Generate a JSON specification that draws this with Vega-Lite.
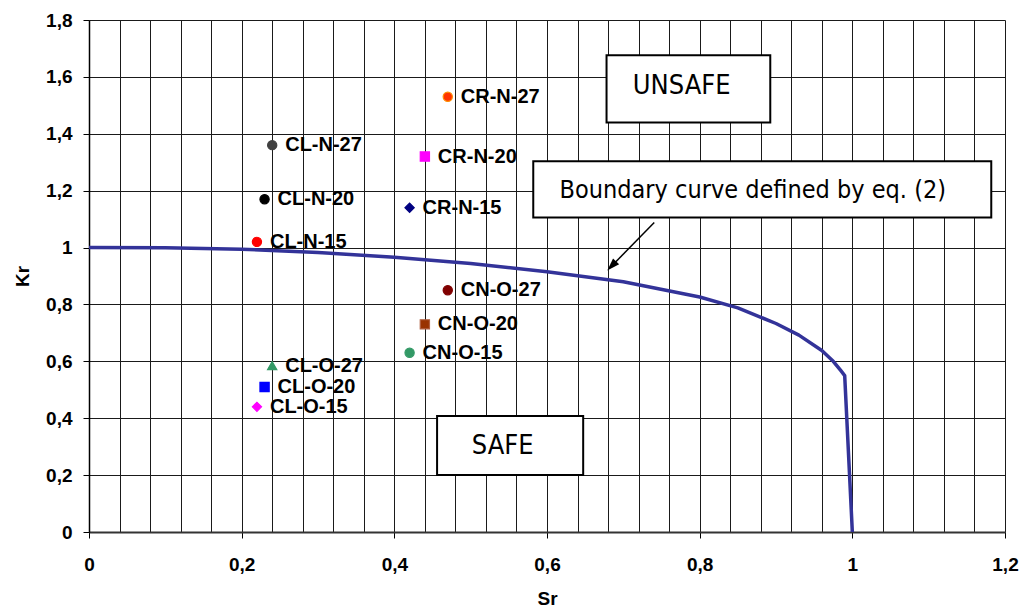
{
  "$schema": "https://vega.github.io/schema/vega-lite/v6.json",
  "width": 916,
  "height": 512,
  "autosize": {"type": "none"},
  "padding": {"left": 89, "top": 20, "right": 17, "bottom": 78},
  "background": "white",
  "datasets": {
    "points": [
      {"Sr": 0.47, "Kr": 1.53, "label": "CR-N-27"},
      {"Sr": 0.24, "Kr": 1.36, "label": "CL-N-27"},
      {"Sr": 0.44, "Kr": 1.32, "label": "CR-N-20"},
      {"Sr": 0.23, "Kr": 1.17, "label": "CL-N-20"},
      {"Sr": 0.42, "Kr": 1.14, "label": "CR-N-15"},
      {"Sr": 0.22, "Kr": 1.02, "label": "CL-N-15"},
      {"Sr": 0.47, "Kr": 0.85, "label": "CN-O-27"},
      {"Sr": 0.44, "Kr": 0.73, "label": "CN-O-20"},
      {"Sr": 0.42, "Kr": 0.63, "label": "CN-O-15"},
      {"Sr": 0.24, "Kr": 0.585, "label": "CL-O-27"},
      {"Sr": 0.23, "Kr": 0.51, "label": "CL-O-20"},
      {"Sr": 0.22, "Kr": 0.44, "label": "CL-O-15"}
    ],
    "curve": [
      {"Sr": 0.0, "Kr": 1.0},
      {"Sr": 0.1, "Kr": 0.999},
      {"Sr": 0.2, "Kr": 0.994},
      {"Sr": 0.3, "Kr": 0.983},
      {"Sr": 0.4, "Kr": 0.966},
      {"Sr": 0.5, "Kr": 0.944},
      {"Sr": 0.6, "Kr": 0.915},
      {"Sr": 0.7, "Kr": 0.88},
      {"Sr": 0.8, "Kr": 0.826},
      {"Sr": 0.85, "Kr": 0.788},
      {"Sr": 0.9, "Kr": 0.733},
      {"Sr": 0.93, "Kr": 0.692},
      {"Sr": 0.96, "Kr": 0.638},
      {"Sr": 0.975, "Kr": 0.6},
      {"Sr": 0.985, "Kr": 0.567},
      {"Sr": 0.99, "Kr": 0.55},
      {"Sr": 1.0, "Kr": 0.0}
    ],
    "boxes": [
      {"Sr": 0.678, "Sr2": 0.8925, "Kr": 1.44, "Kr2": 1.676},
      {"Sr": 0.456, "Sr2": 0.6474, "Kr": 0.2, "Kr2": 0.408},
      {"Sr": 0.582, "Sr2": 1.182, "Kr": 1.106, "Kr2": 1.303}
    ],
    "boxtext": [
      {"Sr": 0.7765, "Kr": 1.567, "text": "UNSAFE", "kind": "big"},
      {"Sr": 0.542, "Kr": 0.301, "text": "SAFE", "kind": "big"},
      {"Sr": 0.8696, "Kr": 1.204, "text": "Boundary curve defined by eq. (2)", "kind": "small"}
    ],
    "arrow": [
      {"Sr": 0.7405, "Kr": 1.088, "Sr2": 0.6854, "Kr2": 0.937}
    ],
    "arrowhead": [
      {"Sr": 0.6854, "Kr": 0.937}
    ]
  },
  "encoding": {
    "x": {
      "field": "Sr", "type": "quantitative", "title": "Sr",
      "scale": {"domain": [0, 1.2], "nice": false, "zero": true},
      "axis": {
        "values": [0, 0.04, 0.08, 0.12, 0.16, 0.2, 0.24, 0.28, 0.32, 0.36, 0.4, 0.44, 0.48, 0.52, 0.56, 0.6, 0.64, 0.68, 0.72, 0.76, 0.8, 0.84, 0.88, 0.92, 0.96, 1, 1.04, 1.08, 1.12, 1.16, 1.2],
        "grid": true,
        "labelOverlap": false,
        "labelBound": false,
        "labelFlush": false,
        "labelExpr": "abs(datum.value*5 - round(datum.value*5)) < 0.001 ? replace(format(datum.value, '.1~f'), '.', ',') : ''",
        "tickOpacity": {"expr": "abs(datum.value*5 - round(datum.value*5)) < 0.001 ? 1 : 0"},
        "labelPadding": 17,
        "titlePadding": 15,
        "domainWidth": 2,
        "domainColor": "#333"
      }
    },
    "y": {
      "field": "Kr", "type": "quantitative", "title": "Kr",
      "scale": {"domain": [0, 1.8], "nice": false, "zero": true},
      "axis": {
        "values": [0, 0.2, 0.4, 0.6, 0.8, 1, 1.2, 1.4, 1.6, 1.8],
        "grid": true,
        "labelOverlap": false,
        "labelBound": false,
        "labelFlush": false,
        "labelExpr": "replace(format(datum.value, '.1~f'), '.', ',')",
        "labelPadding": 11,
        "titlePadding": 13,
        "domainWidth": 1.5
      }
    }
  },
  "layer": [
    {
      "data": {"name": "curve"},
      "mark": {"type": "line", "color": "#333399", "strokeWidth": 3.5, "strokeJoin": "round"},
      "encoding": {
        "order": {"field": "Sr", "type": "quantitative"}
      }
    },
    {
      "data": {"name": "points"},
      "mark": {"type": "point", "filled": true, "opacity": 1, "strokeWidth": 1.2},
      "encoding": {
        "color": {
          "field": "label", "type": "nominal", "legend": null,
          "scale": {
            "domain": ["CR-N-27", "CL-N-27", "CR-N-20", "CL-N-20", "CR-N-15", "CL-N-15", "CN-O-27", "CN-O-20", "CN-O-15", "CL-O-27", "CL-O-20", "CL-O-15"],
            "range": ["#ff3300", "#404040", "#ff00ff", "#000000", "#000080", "#ff0000", "#800000", "#993300", "#339966", "#339966", "#0000ff", "#ff00ff"]
          }
        },
        "stroke": {
          "field": "label", "type": "nominal", "legend": null,
          "scale": {
            "domain": ["CR-N-27", "CL-N-27", "CR-N-20", "CL-N-20", "CR-N-15", "CL-N-15", "CN-O-27", "CN-O-20", "CN-O-15", "CL-O-27", "CL-O-20", "CL-O-15"],
            "range": ["#ff8c00", "#404040", "#ff00ff", "#000000", "#000080", "#ff0000", "#800000", "#b06040", "#339966", "#339966", "#0000ff", "#ff00ff"]
          }
        },
        "shape": {
          "field": "label", "type": "nominal", "legend": null,
          "scale": {
            "domain": ["CR-N-27", "CL-N-27", "CR-N-20", "CL-N-20", "CR-N-15", "CL-N-15", "CN-O-27", "CN-O-20", "CN-O-15", "CL-O-27", "CL-O-20", "CL-O-15"],
            "range": ["circle", "circle", "square", "circle", "diamond", "circle", "circle", "square", "circle", "triangle-up", "square", "diamond"]
          }
        },
        "size": {
          "field": "label", "type": "nominal", "legend": null,
          "scale": {
            "domain": ["CR-N-27", "CL-N-27", "CR-N-20", "CL-N-20", "CR-N-15", "CL-N-15", "CN-O-27", "CN-O-20", "CN-O-15", "CL-O-27", "CL-O-20", "CL-O-15"],
            "range": [85, 85, 70, 85, 110, 85, 85, 70, 85, 95, 70, 110]
          }
        }
      }
    },
    {
      "data": {"name": "points"},
      "mark": {"type": "text", "align": "left", "baseline": "middle", "dx": 13, "font": "Liberation Sans", "fontWeight": "bold", "fontSize": 20, "color": "#000"},
      "encoding": {
        "text": {"field": "label"}
      }
    },
    {
      "data": {"name": "boxes"},
      "mark": {"type": "rect", "fill": "white", "stroke": "#000", "strokeWidth": 2},
      "encoding": {
        "x2": {"field": "Sr2"},
        "y2": {"field": "Kr2"}
      }
    },
    {
      "data": {"name": "boxtext"},
      "transform": [{"filter": "datum.kind == 'big'"}],
      "mark": {"type": "text", "align": "center", "baseline": "middle", "font": "DejaVu Sans Condensed", "fontSize": 27, "color": "#000"},
      "encoding": {
        "text": {"field": "text"}
      }
    },
    {
      "data": {"name": "boxtext"},
      "transform": [{"filter": "datum.kind == 'small'"}],
      "mark": {"type": "text", "align": "center", "baseline": "middle", "font": "DejaVu Sans Condensed", "fontSize": 25, "color": "#000"},
      "encoding": {
        "text": {"field": "text"}
      }
    },
    {
      "data": {"name": "arrow"},
      "mark": {"type": "rule", "color": "#000", "strokeWidth": 1.5},
      "encoding": {
        "x2": {"field": "Sr2"},
        "y2": {"field": "Kr2"}
      }
    },
    {
      "data": {"name": "arrowhead"},
      "mark": {"type": "point", "shape": "M0,-1L0.6,0.8L-0.6,0.8Z", "filled": true, "color": "#000", "opacity": 1, "size": 200, "angle": 224}
    }
  ],
  "config": {
    "view": {"stroke": null},
    "axis": {
      "labelFont": "Liberation Sans",
      "labelFontWeight": "bold",
      "labelFontSize": 19,
      "labelColor": "#000",
      "titleFont": "Liberation Sans",
      "titleFontWeight": "bold",
      "titleFontSize": 19,
      "titleColor": "#000",
      "domainColor": "#000",
      "tickColor": "#000",
      "tickSize": 6,
      "gridColor": "#1a1a1a",
      "gridWidth": 1
    }
  }
}
